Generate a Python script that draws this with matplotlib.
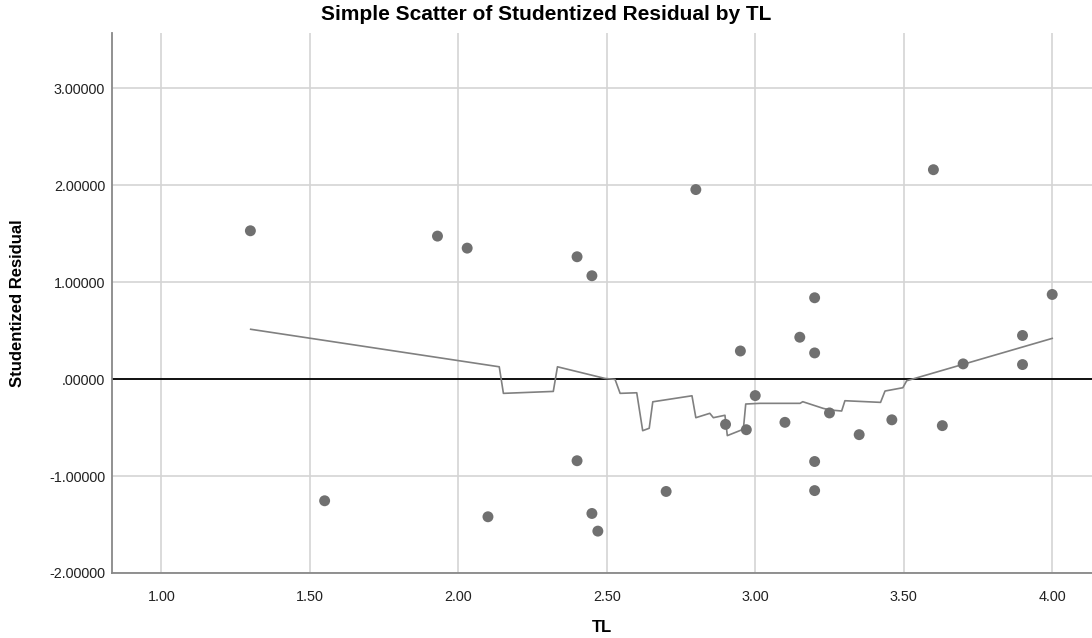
"""Simple scatter of studentized residual by TL, SPSS style."""
import matplotlib

matplotlib.use("Agg")
import matplotlib.pyplot as plt

plt.rcParams["font.family"] = ["Liberation Sans", "DejaVu Sans"]

# observed points
tl = [1.30, 1.55, 1.93, 2.03, 2.10, 2.40, 2.40, 2.45, 2.45, 2.47,
      2.70, 2.80, 2.90, 2.95, 2.97, 3.00, 3.10, 3.15, 3.20, 3.20,
      3.20, 3.20, 3.25, 3.35, 3.46, 3.60, 3.63, 3.70, 3.90, 3.90, 4.00]
resid = [1.53, -1.255, 1.475, 1.351, -1.42, 1.262, -0.842, 1.066, -1.386, -1.568,
         -1.159, 1.955, -0.467, 0.29, -0.522, -0.17, -0.446, 0.432, 0.839, 0.27,
         -0.85, -1.15, -0.349, -0.573, -0.42, 2.16, -0.48, 0.157, 0.45, 0.15, 0.873]

# fit line (loess) vertices
fit_x = [1.301, 2.138, 2.152, 2.320, 2.334, 2.494, 2.528, 2.545, 2.601, 2.621,
         2.643, 2.655, 2.787, 2.800, 2.847, 2.859, 2.898, 2.906, 2.960, 2.968,
         3.016, 3.151, 3.160, 3.229, 3.254, 3.291, 3.302, 3.422, 3.437, 3.497,
         3.510, 4.000]
fit_y = [0.514, 0.127, -0.147, -0.127, 0.127, 0.007, -0.003, -0.147, -0.141, -0.532,
         -0.507, -0.234, -0.172, -0.398, -0.353, -0.398, -0.373, -0.583, -0.517, -0.257,
         -0.250, -0.250, -0.233, -0.302, -0.319, -0.329, -0.223, -0.240, -0.123, -0.089,
         -0.017, 0.420]

x_ticks = [1.0, 1.5, 2.0, 2.5, 3.0, 3.5, 4.0]
y_ticks = [-2, -1, 0, 1, 2, 3]

fig = plt.figure(figsize=(10.92, 6.38), dpi=100)
ax = fig.add_axes([112 / 1092, 1 - 573 / 638, 1 - 112 / 1092, (573 - 33) / 638])

ax.set_xlim(0.834, 4.134)
ax.set_ylim(-2.0, 3.57)
ax.set_xticks(x_ticks)
ax.set_yticks(y_ticks)
ax.set_xticklabels([f"{v:.2f}" for v in x_ticks])
ax.set_yticklabels([f"{v:.5f}".replace("0.00000", ".00000") for v in y_ticks])
ax.tick_params(length=0, labelsize=10.4, colors="#222222")
ax.tick_params(axis="y", pad=5)
ax.tick_params(axis="x", pad=12)

ax.grid(color="#d4d4d4", linewidth=1.2)
ax.set_axisbelow(True)
for side in ("top", "right"):
    ax.spines[side].set_visible(False)
for side in ("left", "bottom"):
    ax.spines[side].set_color("#888888")
    ax.spines[side].set_linewidth(1.3)

ax.axhline(0, color="black", linewidth=1.3, zorder=2)
ax.plot(fit_x, fit_y, color="#808080", linewidth=1.2, zorder=3)
ax.scatter(tl, resid, s=62, color="#707070", edgecolors="none", zorder=4)

fig.text(0.5, 1 - 15 / 638, "Simple Scatter of Studentized Residual by TL",
         ha="center", va="center", fontsize=15, fontweight="bold")
ax.set_xlabel("TL", fontsize=12, fontweight="bold", va="center")
ax.xaxis.set_label_coords(0.5, (573 - 627) / 540)
ax.set_ylabel("Studentized Residual", fontsize=12, fontweight="bold", va="center")
ax.yaxis.set_label_coords((18 - 112) / 980, 0.5)

fig.savefig("out.png", dpi=100)
plt.close(fig)
